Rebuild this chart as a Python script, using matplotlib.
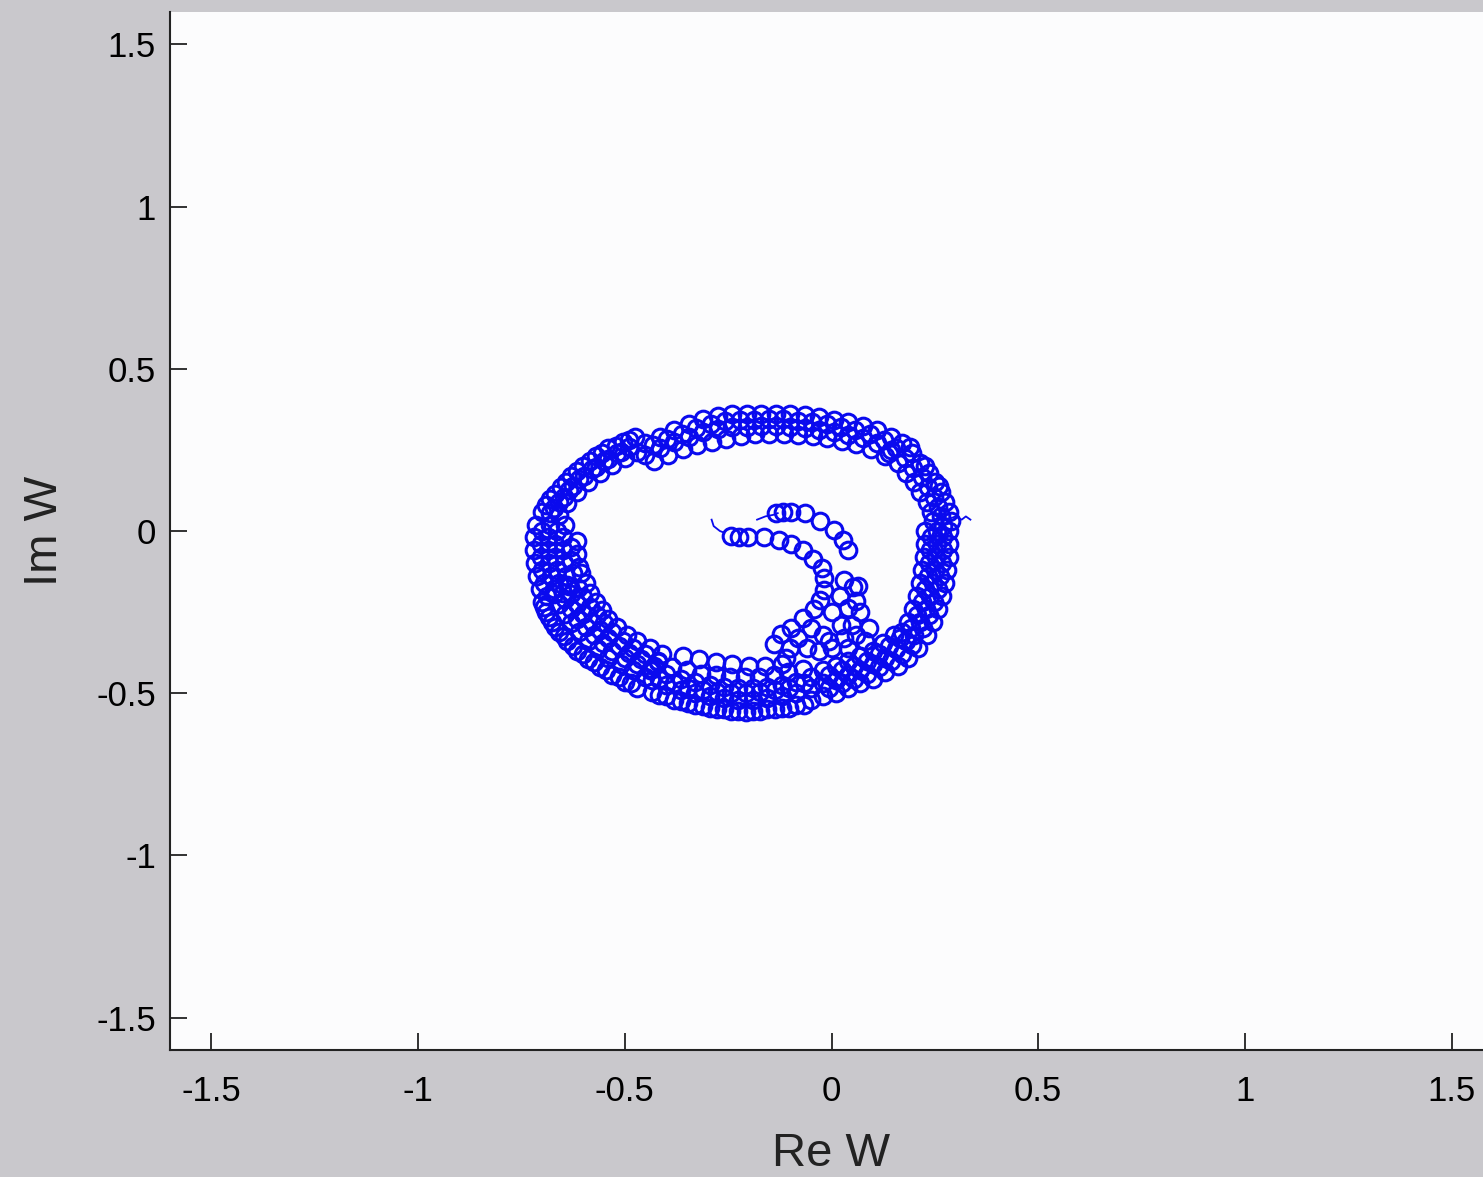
import matplotlib
matplotlib.use("Agg")
import matplotlib.pyplot as plt

# ---- data (Re W, Im W) ----
# outer limit-cycle band, split into segments, several rows across the band
top_re = [-0.45, -0.415, -0.38, -0.345, -0.31, -0.275, -0.24, -0.205, -0.17, -0.135, -0.10, -0.065, -0.03, 0.005, 0.04, 0.075, 0.11, 0.145,
          -0.432, -0.397, -0.362, -0.327, -0.292, -0.257, -0.222, -0.187, -0.152, -0.117, -0.082, -0.047, -0.012, 0.022, 0.057, 0.092, 0.127,
          -0.45, -0.415, -0.38, -0.345, -0.31, -0.275, -0.24, -0.205, -0.17, -0.135, -0.10, -0.065, -0.03, 0.005, 0.04, 0.075, 0.11, 0.145,
          -0.43, -0.395, -0.36, -0.325, -0.29, -0.255, -0.22, -0.185, -0.15, -0.115, -0.08, -0.045, -0.01, 0.025, 0.06, 0.095, 0.13]
top_im = [0.27, 0.29, 0.31, 0.33, 0.345, 0.355, 0.36, 0.36, 0.362, 0.362, 0.36, 0.357, 0.35, 0.343, 0.335, 0.325, 0.31, 0.29,
          0.265, 0.283, 0.30, 0.318, 0.33, 0.338, 0.341, 0.342, 0.344, 0.344, 0.34, 0.336, 0.329, 0.321, 0.31, 0.298, 0.28,
          0.235, 0.255, 0.275, 0.29, 0.305, 0.315, 0.32, 0.322, 0.325, 0.325, 0.322, 0.318, 0.312, 0.305, 0.297, 0.287, 0.272, 0.25,
          0.215, 0.235, 0.252, 0.265, 0.275, 0.285, 0.293, 0.298, 0.30, 0.30, 0.297, 0.293, 0.287, 0.278, 0.267, 0.252, 0.232]

upright_re = [0.17, 0.195, 0.215, 0.235, 0.25, 0.265, 0.275, 0.285, 0.29,
              0.155, 0.178, 0.198, 0.218, 0.233, 0.248, 0.258, 0.265, 0.27, 0.19, 0.225, 0.26,
              0.14, 0.16, 0.18, 0.20, 0.215, 0.23, 0.24, 0.245]
upright_im = [0.27, 0.24, 0.21, 0.18, 0.15, 0.12, 0.09, 0.06, 0.03,
              0.255, 0.225, 0.195, 0.165, 0.135, 0.105, 0.075, 0.045, 0.015, 0.26, 0.20, 0.14,
              0.24, 0.21, 0.18, 0.15, 0.12, 0.09, 0.06, 0.03]

right_re = [0.285, 0.285, 0.283, 0.28, 0.275, 0.268, 0.258, 0.245, 0.23,
            0.27, 0.269, 0.267, 0.263, 0.257, 0.248, 0.237, 0.222,
            0.255, 0.255, 0.253, 0.25, 0.245, 0.238, 0.228, 0.215, 0.20,
            0.24, 0.239, 0.237, 0.233, 0.227, 0.218, 0.207, 0.192,
            0.225, 0.225, 0.223, 0.22, 0.215, 0.207, 0.197, 0.185, 0.17]
right_im = [0.0, -0.04, -0.08, -0.12, -0.16, -0.20, -0.24, -0.28, -0.32,
            -0.02, -0.06, -0.10, -0.14, -0.18, -0.22, -0.26, -0.30,
            0.0, -0.04, -0.08, -0.12, -0.16, -0.20, -0.24, -0.28, -0.32,
            -0.02, -0.06, -0.10, -0.14, -0.18, -0.22, -0.26, -0.30,
            0.0, -0.04, -0.08, -0.12, -0.16, -0.20, -0.24, -0.28, -0.31]

lowright_re = [0.21, 0.185, 0.16, 0.13, 0.10, 0.07, 0.04, 0.01, -0.02,
               0.195, 0.17, 0.145, 0.115, 0.085, 0.055, 0.025, -0.005,
               0.18, 0.155, 0.13, 0.10, 0.07, 0.04, 0.01, -0.02,
               0.165, 0.14, 0.115, 0.085, 0.055, 0.025, -0.005,
               0.15, 0.125, 0.10, 0.07, 0.04, 0.01, -0.02]
lowright_im = [-0.36, -0.39, -0.415, -0.435, -0.455, -0.47, -0.485, -0.50, -0.51,
               -0.35, -0.38, -0.40, -0.42, -0.44, -0.455, -0.47, -0.485,
               -0.34, -0.365, -0.39, -0.41, -0.43, -0.445, -0.46, -0.47,
               -0.33, -0.355, -0.38, -0.40, -0.415, -0.43, -0.445,
               -0.32, -0.345, -0.37, -0.385, -0.40, -0.415, -0.43]

bottom_re = [-0.05, -0.085, -0.12, -0.155, -0.19, -0.225, -0.26, -0.295, -0.33, -0.365, -0.40, -0.435,
             -0.067, -0.102, -0.137, -0.172, -0.207, -0.242, -0.277, -0.312, -0.347, -0.382, -0.417,
             -0.05, -0.085, -0.12, -0.155, -0.19, -0.225, -0.26, -0.295, -0.33, -0.365, -0.40, -0.435,
             -0.067, -0.102, -0.137, -0.172, -0.207, -0.242, -0.277, -0.312, -0.347, -0.382, -0.417,
             -0.05, -0.085, -0.12, -0.155, -0.19, -0.225, -0.26, -0.295, -0.33, -0.365, -0.40, -0.435,
             -0.07, -0.105, -0.14, -0.175, -0.21, -0.245, -0.28, -0.315, -0.35, -0.385, -0.42,
             -0.12, -0.16, -0.20, -0.24, -0.28, -0.32, -0.36]
bottom_im = [-0.52, -0.535, -0.545, -0.55, -0.555, -0.555, -0.55, -0.545, -0.535, -0.525, -0.51, -0.495,
             -0.535, -0.545, -0.55, -0.555, -0.557, -0.555, -0.55, -0.54, -0.53, -0.52, -0.505,
             -0.485, -0.50, -0.51, -0.515, -0.52, -0.52, -0.515, -0.51, -0.50, -0.49, -0.475, -0.46,
             -0.47, -0.485, -0.49, -0.497, -0.50, -0.50, -0.497, -0.49, -0.483, -0.47, -0.455,
             -0.45, -0.465, -0.475, -0.48, -0.485, -0.485, -0.48, -0.475, -0.465, -0.455, -0.44, -0.425,
             -0.425, -0.435, -0.445, -0.45, -0.45, -0.45, -0.445, -0.44, -0.43, -0.42, -0.405,
             -0.41, -0.415, -0.415, -0.41, -0.405, -0.395, -0.385]

lowleft_re = [-0.47, -0.50, -0.53, -0.56, -0.59, -0.615, -0.64, -0.66, -0.675, -0.69, -0.70,
              -0.485, -0.515, -0.545, -0.575, -0.60, -0.625, -0.648, -0.668, -0.683, -0.695,
              -0.45, -0.48, -0.51, -0.54, -0.565, -0.59, -0.61, -0.63, -0.645, -0.66, -0.67,
              -0.44, -0.47, -0.50, -0.53, -0.553, -0.575, -0.595, -0.615, -0.63, -0.645,
              -0.43, -0.46, -0.49, -0.515, -0.54, -0.56, -0.58, -0.60, -0.615, -0.63, -0.64,
              -0.42, -0.45, -0.48, -0.505, -0.53, -0.55, -0.568, -0.585, -0.60, -0.612,
              -0.41, -0.44, -0.47, -0.495, -0.52, -0.54, -0.555, -0.57, -0.585, -0.595, -0.605]
lowleft_im = [-0.485, -0.465, -0.445, -0.42, -0.395, -0.37, -0.34, -0.31, -0.28, -0.25, -0.22,
              -0.47, -0.45, -0.43, -0.405, -0.38, -0.355, -0.325, -0.295, -0.265, -0.235,
              -0.45, -0.43, -0.41, -0.39, -0.365, -0.34, -0.31, -0.285, -0.255, -0.225, -0.195,
              -0.43, -0.41, -0.39, -0.37, -0.345, -0.32, -0.295, -0.27, -0.24, -0.21,
              -0.415, -0.395, -0.375, -0.355, -0.33, -0.305, -0.28, -0.255, -0.225, -0.195, -0.165,
              -0.40, -0.38, -0.36, -0.34, -0.31, -0.285, -0.26, -0.235, -0.205, -0.175,
              -0.38, -0.36, -0.34, -0.32, -0.295, -0.27, -0.245, -0.22, -0.19, -0.16, -0.13]

left_re = [-0.715, -0.72, -0.72, -0.718, -0.712, -0.705,
           -0.70, -0.703, -0.703, -0.70, -0.695, -0.688,
           -0.68, -0.685, -0.685, -0.683, -0.678, -0.67,
           -0.665, -0.668, -0.668, -0.665, -0.66, -0.65,
           -0.645, -0.65, -0.65, -0.648, -0.643, -0.635,
           -0.63, -0.63, -0.625,
           -0.615, -0.615, -0.61]
left_im = [0.02, -0.02, -0.06, -0.10, -0.14, -0.18,
           0.0, -0.04, -0.08, -0.12, -0.16, -0.20,
           0.02, -0.02, -0.06, -0.10, -0.14, -0.18,
           0.0, -0.04, -0.08, -0.12, -0.16, -0.19,
           0.02, -0.02, -0.06, -0.10, -0.14, -0.17,
           -0.05, -0.09, -0.13,
           -0.03, -0.07, -0.11]

upleft_re = [-0.70, -0.68, -0.655, -0.63, -0.60, -0.57, -0.54, -0.505, -0.475,
             -0.69, -0.668, -0.643, -0.615, -0.585, -0.555, -0.522, -0.49,
             -0.68, -0.66, -0.635, -0.61, -0.58, -0.55, -0.52, -0.49,
             -0.67, -0.648, -0.625, -0.598, -0.57, -0.54, -0.51,
             -0.66, -0.64, -0.615, -0.59, -0.56, -0.53, -0.50, -0.47]
upleft_im = [0.06, 0.10, 0.135, 0.17, 0.20, 0.23, 0.255, 0.275, 0.29,
             0.08, 0.115, 0.15, 0.185, 0.215, 0.24, 0.262, 0.28,
             0.055, 0.09, 0.125, 0.16, 0.19, 0.215, 0.24, 0.26,
             0.07, 0.105, 0.14, 0.17, 0.198, 0.222, 0.245,
             0.05, 0.085, 0.12, 0.15, 0.18, 0.205, 0.225, 0.245]

# inner spiral arms
armA_re = [-0.244, -0.223, -0.203, -0.164, -0.128, -0.099, -0.070, -0.044, -0.022, -0.019, -0.019, -0.027, -0.043, -0.068, -0.099, -0.123, -0.140]
armA_im = [-0.014, -0.017, -0.020, -0.020, -0.029, -0.039, -0.060, -0.085, -0.113, -0.146, -0.183, -0.214, -0.239, -0.267, -0.298, -0.316, -0.347]

armB_re = [-0.135, -0.117, -0.099, -0.063, -0.027, 0.005, 0.029, 0.041, 0.065, 0.060, 0.051, 0.041, 0.022, -0.007]
armB_im = [0.054, 0.058, 0.060, 0.054, 0.032, 0.002, -0.029, -0.060, -0.170, -0.215, -0.174, -0.236, -0.291, -0.338]

fill_re = [0.0, 0.02, 0.03, -0.05, -0.02, 0.05, 0.07, -0.08, -0.10, 0.03, 0.06, 0.09, -0.06, -0.03, 0.0, 0.04, 0.08, -0.11]
fill_im = [-0.25, -0.20, -0.15, -0.30, -0.32, -0.29, -0.25, -0.33, -0.36, -0.33, -0.32, -0.30, -0.36, -0.37, -0.36, -0.36, -0.34, -0.39]

# short line tails
tail1_re = [-0.29, -0.285, -0.27, -0.26]
tail1_im = [0.035, 0.015, 0.0, -0.005]
tail2_re = [-0.18, -0.16, -0.14, -0.13]
tail2_im = [0.035, 0.045, 0.05, 0.055]
tail3_re = [0.28, 0.30, 0.315, 0.325, 0.336]
tail3_im = [0.035, 0.045, 0.035, 0.045, 0.035]

re_all = top_re + upright_re + right_re + lowright_re + bottom_re + lowleft_re + left_re + upleft_re + armA_re + armB_re + fill_re
im_all = top_im + upright_im + right_im + lowright_im + bottom_im + lowleft_im + left_im + upleft_im + armA_im + armB_im + fill_im

xticks = [-1.5, -1, -0.5, 0, 0.5, 1, 1.5]
yticks = [-1.5, -1, -0.5, 0, 0.5, 1, 1.5]
tick_labels = ["-1.5", "-1", "-0.5", "0", "0.5", "1", "1.5"]

plt.rcParams["font.family"] = ["Liberation Sans", "DejaVu Sans"]

W, H = 1483, 1177
fig = plt.figure(figsize=(W / 100, H / 100), dpi=100, facecolor="#c9c8cc")
ax = fig.add_axes((170 / W, (H - 1050) / H, 1323 / W, 1038 / H))
ax.set_facecolor("#fcfcfd")

blue = "#0a0aee"
ax.plot(re_all, im_all, linestyle="none", marker="o", markersize=12,
        markerfacecolor="none", markeredgecolor=blue, markeredgewidth=2.2)
for tx, ty in [(tail1_re, tail1_im), (tail2_re, tail2_im), (tail3_re, tail3_im)]:
    ax.plot(tx, ty, color=blue, linewidth=1.3)

ax.set_xlim(-1.6, 1.6)
ax.set_ylim(-1.6, 1.6)
ax.set_xticks(xticks)
ax.set_xticklabels(tick_labels)
ax.set_yticks(yticks)
ax.set_yticklabels(tick_labels)
ax.tick_params(direction="in", length=12, width=1.3, labelsize=25, color="#222222")
ax.tick_params(axis="x", pad=18)
ax.tick_params(axis="y", pad=10)

ax.spines["top"].set_visible(False)
ax.spines["right"].set_visible(False)
for s in ("left", "bottom"):
    ax.spines[s].set_linewidth(1.5)
    ax.spines[s].set_color("#222222")

ax.set_xlabel("Re W", fontsize=34, labelpad=17, color="#222222")
ax.set_ylabel("Im W", fontsize=34, labelpad=21, color="#222222")

fig.savefig("out.png", dpi=100, facecolor=fig.get_facecolor())
